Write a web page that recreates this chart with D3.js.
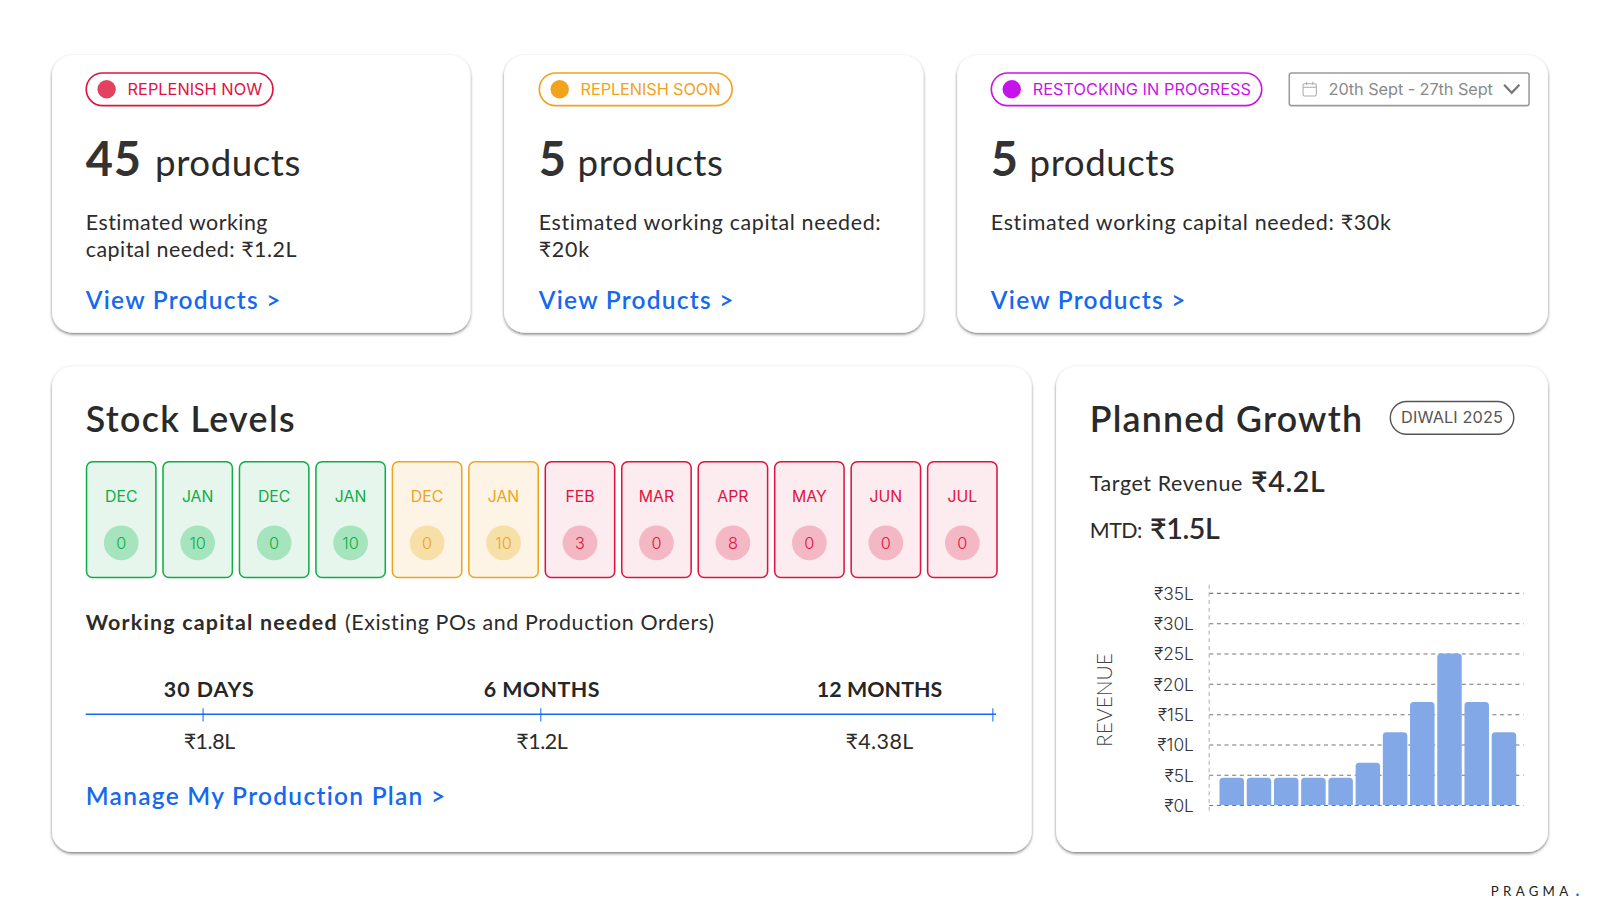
<!DOCTYPE html>
<html><head><meta charset="utf-8">
<style>html,body{margin:0;padding:0;background:#fff;overflow:hidden}svg{display:block}text{font-family:Lato,"Noto Sans",sans-serif}</style>
<script src="https://cdn.jsdelivr.net/npm/d3@7/dist/d3.min.js"></script>
</head><body><svg id="c" width="1600" height="913" viewBox="0 0 1568 894.74"></svg>
<script>
const stockMonths=["DEC","JAN","DEC","JAN","DEC","JAN","FEB","MAR","APR","MAY","JUN","JUL"];
const stockValues=[0,10,0,10,0,10,3,0,8,0,0,0];
const stockStatus=["ok","ok","ok","ok","warn","warn","low","low","low","low","low","low"];
const horizons=["30 DAYS","6 MONTHS","12 MONTHS"];
const horizonValues=["₹1.8L","₹1.2L","₹4.38L"];
const revenuePeriods=["P1","P2","P3","P4","P5","P6","P7","P8","P9","P10","P11"];
const revenueValues=[4.5,4.5,4.5,4.5,4.5,7,12,17,25,17,12];
const revenueTicks=[0,5,10,15,20,25,30,35];

const svg=d3.select("#c");
const ink="#2b2b2b",blue="#1469ee",FH='Inter,Lato,sans-serif';
const defs=svg.append("defs");
const f=defs.append("filter").attr("id","sh").attr("x","-5%").attr("y","-5%").attr("width","110%").attr("height","112%");
f.append("feDropShadow").attr("dx",0).attr("dy",1.5).attr("stdDeviation",1.6).attr("flood-color","#000").attr("flood-opacity",.52);

function T(g,x,y,s,o={}){
  const t=g.append("text").attr("x",x).attr("y",y).text(s)
    .attr("font-size",o.size||21).attr("font-weight",o.weight||400).attr("fill",o.fill||ink)
    .attr("text-anchor",o.anchor||"start");
  if(o.font)t.style("font-family",o.font);
  if(o.w){const n=s.length,l=t.node().getComputedTextLength();t.style("letter-spacing",((o.w-l)/n)+"px");}
  return t;
}
function card(x0,x1,y0,y1){
  svg.append("rect").attr("x",x0).attr("y",y0).attr("width",x1-x0).attr("height",y1-y0).attr("rx",20)
    .attr("fill","#fff").attr("filter","url(#sh)");
}
const topCards=[
 {x0:51,x1:461,x:84,px1:268,dot:"#e2425f",col:"#e0133f",label:"REPLENISH NOW",lw:132,num:"45",nw:55,px:152,lines:[["Estimated working",179],["capital needed: ₹1.2L",207]]},
 {x0:494,x1:905,x:528,px1:718,dot:"#f0a31b",col:"#f0a31b",label:"REPLENISH SOON",lw:137,num:"5",nw:25,px:566,lines:[["Estimated working capital needed:",336],["₹20k",50]]},
 {x0:938,x1:1517,x:971,px1:1237,dot:"#c414ea",col:"#c914e6",label:"RESTOCKING IN PROGRESS",lw:214,num:"5",nw:25,px:1009,lines:[["Estimated working capital needed: ₹30k",393]]}
];
topCards.forEach(c=>{
  card(c.x0,c.x1,54,326);
  const g=svg.append("g"),x=c.x;
  g.append("rect").attr("x",x+.5).attr("y",71.5).attr("width",c.px1-x-1).attr("height",32).attr("rx",16).attr("fill","#fff").attr("stroke",c.col).attr("stroke-width",1.6);
  g.append("circle").attr("cx",x+20.5).attr("cy",87.5).attr("r",9).attr("fill",c.dot);
  T(g,x+41,93.5,c.label,{size:16,fill:c.col,w:c.lw,font:FH});
  T(g,x,172.5,c.num,{size:46,weight:700,w:c.nw,fill:"#333"});
  T(g,c.px,172.5,"products",{size:36,w:143,fill:"#2b2b2b"});
  c.lines.forEach((l,i)=>T(g,x,225+i*27,l[0],{size:21,w:l[1]}));
  T(g,x,303,"View Products >",{size:24,weight:600,fill:blue,w:192});
});
// date picker
const dp=svg.append("g");
dp.append("rect").attr("x",1263.5).attr("y",71.5).attr("width",235).attr("height",32).attr("rx",2).attr("fill","#fff").attr("stroke","#9a9a9a").attr("stroke-width",1.5);
dp.append("rect").attr("x",1277).attr("y",82).attr("width",13).attr("height",12).attr("rx",1.5).attr("fill","none").attr("stroke","#aaa");
dp.append("path").attr("d","M1277 85.5H1290M1280.5 80V83M1286.5 80V83").attr("stroke","#aaa").attr("fill","none");
T(dp,1302,93.5,"20th Sept - 27th Sept",{size:16,fill:"#8a8a8a",w:161,font:FH});
dp.append("path").attr("d","M1474 83L1481.5 91L1489 83").attr("fill","none").attr("stroke","#777").attr("stroke-width",2.2);

// Stock levels
card(51,1011,359,835);
const st=svg.append("g");
T(st,84,423,"Stock Levels",{size:35,weight:600,w:206,fill:"#2a2a2a"});
const palette={ok:{b:"#0cae45",bg:"#e6f6ec",c:"#a5e4bd"},warn:{b:"#f0a31b",bg:"#fdf4e6",c:"#f7dfa8"},low:{b:"#e0133f",bg:"#fcebef",c:"#f4b8c5"}};
const cellX=d3.scaleBand().domain(d3.range(stockMonths.length)).range([84.8,984]).paddingInner(0.0).align(0);
const cw=68,cy0=452.5,cy1=566;
const cells=st.selectAll("g.cell").data(stockMonths.map((m,i)=>({m,v:stockValues[i],s:palette[stockStatus[i]],i}))).join("g").attr("class","cell")
 .attr("transform",d=>`translate(${cellX(d.i)},0)`);
cells.append("rect").attr("y",cy0).attr("width",cw).attr("height",cy1-cy0).attr("rx",6).attr("fill",d=>d.s.bg).attr("stroke",d=>d.s.b).attr("stroke-width",1.5);
cells.append("text").attr("x",cw/2).attr("y",492).attr("text-anchor","middle").attr("font-size",15.5).attr("font-weight",400).style("font-family",FH).attr("fill",d=>d.s.b).text(d=>d.m);
cells.append("circle").attr("cx",cw/2).attr("cy",532).attr("r",17).attr("fill",d=>d.s.c);
cells.append("text").attr("x",cw/2).attr("y",538).attr("text-anchor","middle").attr("font-size",16).attr("font-weight",300).style("font-family",FH).attr("fill",d=>d.s.b).text(d=>d.v);
T(st,84,617,"Working capital needed",{size:21,weight:700,w:247});
T(st,338,617,"(Existing POs and Production Orders)",{size:21,w:363});
// timeline
const tickX=d3.scaleOrdinal().domain(horizons).range([199,530,973]);
const labelX=d3.scaleOrdinal().domain(horizons).range([205,531,862]);
st.append("line").attr("x1",84).attr("x2",976).attr("y1",700).attr("y2",700).attr("stroke",blue).attr("stroke-width",1.5);
st.selectAll("line.t").data(horizons).join("line").attr("class","t").attr("x1",tickX).attr("x2",tickX).attr("y1",694).attr("y2",707).attr("stroke",blue).attr("stroke-width",1);
const hw=[89,114,123],vw=[50,50,67];
horizons.forEach((h,i)=>{
  T(st,labelX(h),683,h,{size:21,weight:700,anchor:"middle",w:hw[i],fill:"#262626"});
  T(st,labelX(h),734,horizonValues[i],{size:21,anchor:"middle",w:vw[i]});
});
T(st,84,788.5,"Manage My Production Plan >",{size:24,weight:600,fill:blue,w:354});

// Planned growth
card(1035,1517,359,835);
const pg=svg.append("g");
T(pg,1068,423,"Planned Growth",{size:35,weight:600,w:268,fill:"#2a2a2a"});
pg.append("rect").attr("x",1362.5).attr("y",393.5).attr("width",121).attr("height",32).attr("rx",16).attr("fill","#fff").attr("stroke","#555").attr("stroke-width",1.4);
T(pg,1373,415,"DIWALI 2025",{size:16,fill:"#555",w:100,font:FH});
T(pg,1068,481,"Target Revenue",{size:21,w:150});
T(pg,1226,482,"₹4.2L",{size:28,weight:600,w:73});
T(pg,1068,527,"MTD:",{size:21,w:51});
T(pg,1127,528,"₹1.5L",{size:28,weight:600,w:68});
T(pg,0,0,"REVENUE",{size:20.5,w:93,anchor:"middle",fill:"#444"}).attr("font-weight",300).attr("transform","translate(1089.5,686) rotate(-90)");

const y=d3.scaleLinear().domain([0,35]).range([789,581]);
const x=d3.scaleBand().domain(revenuePeriods).range([1193.8,1487.2]).paddingInner(0.1).paddingOuter(0.05);
const yAxis=d3.axisLeft(y).tickValues(revenueTicks).tickFormat(d=>`₹${d}L`).tickSize(-308).tickPadding(15);
const ga=pg.append("g").attr("transform","translate(1185,0)").call(yAxis);
ga.select(".domain").remove();
ga.selectAll(".tick line").attr("stroke","#777").attr("stroke-dasharray","4 3.5").attr("stroke-width",1);
ga.selectAll(".tick text").attr("font-size",17).attr("fill","#333").attr("dy","0.36em").style("font-family",FH).attr("font-weight",300);
pg.append("line").attr("x1",1185).attr("x2",1185).attr("y1",573).attr("y2",798).attr("stroke","#bbb").attr("stroke-dasharray","4 3.5").attr("stroke-width",1.2);
pg.selectAll("path.bar").data(revenueValues.map((v,i)=>({v,p:revenuePeriods[i]}))).join("path").attr("class","bar")
 .attr("fill","#82a8e8")
 .attr("d",d=>{const X=x(d.p),W=x.bandwidth(),Y=y(d.v),B=y(0),r=3.5;
   return `M${X} ${B}V${Y+r}Q${X} ${Y} ${X+r} ${Y}H${X+W-r}Q${X+W} ${Y} ${X+W} ${Y+r}V${B}Z`;});

// brand
const br=svg.append("g");
T(br,1461,878,"PRAGMA",{size:13,w:80,fill:"#222"});
T(br,1544,878,".",{size:16,weight:700,fill:blue});
</script></body></html>
